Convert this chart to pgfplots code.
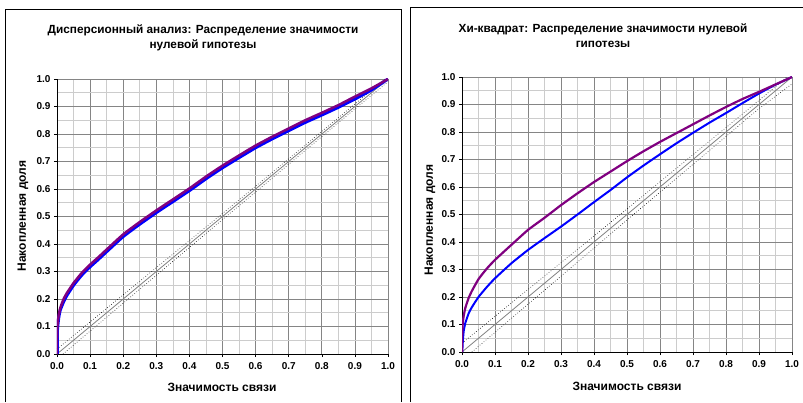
\documentclass[border=0pt]{standalone}
\usepackage{pgfplots}
\pgfplotsset{compat=1.18}
\usepackage{fontspec}
\setmainfont{Liberation Sans}
\definecolor{cpurple}{HTML}{800080}
\definecolor{cblue}{HTML}{0000FF}
\pgfplotsset{
  myax/.style={
    scale only axis, width=331pt, height=275pt,
    xmin=0, xmax=1, ymin=0, ymax=1,
    xtick={0,0.1,...,1.01}, ytick={0,0.1,...,1.01},
    minor x tick num=1, minor y tick num=1,
    grid=both,
    major grid style={draw=black!48, line width=0.7pt},
    minor grid style={draw=black!20, line width=0.7pt},
    axis x line*=bottom, axis y line*=left,
    axis line style={black, line width=0.9pt},
    tick align=outside, major tick length=3pt, minor tick length=0pt,
    tick style={black, line width=0.6pt},
    /pgf/number format/assume math mode=true,
    /pgf/number format/fixed, /pgf/number format/fixed zerofill, /pgf/number format/precision=1,
    tick label style={font=\bfseries\fontsize{10}{11}\selectfont},
    xticklabel style={yshift=-2pt},
  }
}
\begin{document}
\begin{tikzpicture}
\path[use as bounding box] (0pt,0pt) rectangle (803pt,402pt);
% frames
\draw[black, line width=1pt] (5.5pt,0pt) -- (5.5pt,392pt) -- (401.5pt,392pt) -- (401.5pt,0pt);
\draw[black, line width=1pt] (410.5pt,0pt) -- (410.5pt,394pt) -- (810pt,394pt);
% left titles
\node[font=\bfseries\fontsize{11.8}{15}\selectfont, align=center] at (203pt,364pt) {Дисперсионный анализ: Распределение значимости\\нулевой гипотезы};
\node[font=\bfseries\fontsize{12}{14}\selectfont] at (222pt,15pt) {Значимость связи};
\node[font=\bfseries\fontsize{12}{14}\selectfont, rotate=90] at (23pt,186pt) {Накопленная доля};
% right titles
\node[font=\bfseries\fontsize{11.8}{15}\selectfont, align=center] at (603pt,366pt) {Хи-квадрат: Распределение значимости нулевой\\гипотезы};
\node[font=\bfseries\fontsize{12}{14}\selectfont] at (627pt,16pt) {Значимость связи};
\node[font=\bfseries\fontsize{12}{14}\selectfont, rotate=90] at (430pt,182pt) {Накопленная доля};

\begin{axis}[myax, at={(57pt,48pt)}, anchor=south west]
\addplot[draw=black!50, line width=0.8pt] coordinates {(0,0)(1,1)};
\addplot[draw=black, dotted, line width=0.6pt] coordinates {(0,0.018)(0.5,0.511)(0.9,0.909)(0.99,1)};
\addplot[draw=black, dotted, line width=0.6pt] coordinates {(0.018,0)(0.5,0.489)(0.9,0.891)(1,0.99)};
\addplot[draw=cblue, line width=3pt, smooth, tension=0.3] coordinates {(0.001,0)(0.001,0.08)(0.005,0.13)(0.01,0.16)(0.02,0.19)(0.03,0.213)(0.05,0.25)(0.075,0.287)(0.1,0.317)(0.125,0.344)(0.15,0.372)(0.2,0.427)(0.25,0.472)(0.3,0.514)(0.35,0.554)(0.4,0.594)(0.45,0.637)(0.5,0.677)(0.55,0.714)(0.6,0.75)(0.65,0.782)(0.7,0.812)(0.75,0.842)(0.8,0.869)(0.85,0.897)(0.9,0.927)(0.95,0.96)(1,1)};
\addplot[draw=cpurple, line width=2.5pt, smooth, tension=0.3] coordinates {(0,0)(0,0.06)(0.001,0.1)(0.005,0.14)(0.01,0.168)(0.02,0.2)(0.03,0.222)(0.05,0.258)(0.075,0.295)(0.1,0.325)(0.125,0.352)(0.15,0.38)(0.2,0.435)(0.25,0.48)(0.3,0.522)(0.35,0.562)(0.4,0.602)(0.45,0.645)(0.5,0.685)(0.55,0.722)(0.6,0.758)(0.65,0.79)(0.7,0.82)(0.75,0.85)(0.8,0.877)(0.85,0.905)(0.9,0.936)(0.95,0.966)(1,1)};
\end{axis}

\begin{axis}[myax, width=330pt, at={(462pt,50pt)}, anchor=south west]
\addplot[draw=black!50, line width=0.8pt] coordinates {(0,0)(1,1)};
\addplot[draw=black, dotted, line width=0.6pt] coordinates {(0,0.032)(0.5,0.52)(0.9,0.915)(0.985,1)};
\addplot[draw=black, dotted, line width=0.6pt] coordinates {(0.03,0)(0.5,0.48)(0.9,0.885)(1,0.975)};
\addplot[draw=cblue, line width=2pt, smooth, tension=0.3] coordinates {(0.001,0)(0.002,0.03)(0.005,0.075)(0.01,0.105)(0.02,0.14)(0.03,0.163)(0.05,0.2)(0.075,0.236)(0.1,0.268)(0.15,0.323)(0.2,0.371)(0.25,0.414)(0.3,0.456)(0.35,0.5)(0.4,0.545)(0.45,0.589)(0.5,0.635)(0.55,0.678)(0.6,0.719)(0.65,0.759)(0.7,0.797)(0.75,0.834)(0.8,0.869)(0.85,0.905)(0.9,0.94)(0.95,0.972)(1,1)};
\addplot[draw=cpurple, line width=2.2pt, smooth, tension=0.3] coordinates {(0,0)(0,0.05)(0.002,0.1)(0.005,0.13)(0.01,0.16)(0.02,0.196)(0.03,0.222)(0.05,0.265)(0.075,0.303)(0.1,0.335)(0.15,0.39)(0.2,0.444)(0.25,0.488)(0.3,0.534)(0.35,0.577)(0.4,0.618)(0.45,0.656)(0.5,0.694)(0.55,0.73)(0.6,0.764)(0.65,0.796)(0.7,0.828)(0.75,0.86)(0.8,0.891)(0.85,0.92)(0.9,0.946)(0.95,0.973)(1,1)};
\end{axis}
\end{tikzpicture}
\end{document}
